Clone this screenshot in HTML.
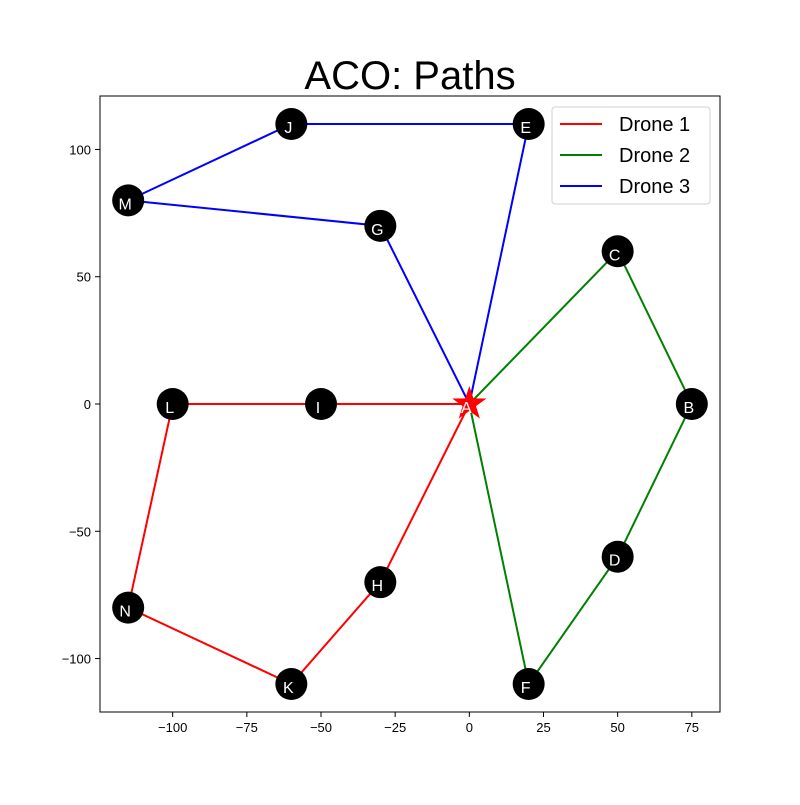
<!DOCTYPE html>
<html><head><meta charset="utf-8"><style>
body{margin:0;background:#fff;}
svg{font-family:"Liberation Sans","DejaVu Sans",sans-serif;}
</style></head><body>
<svg id="chart" width="800" height="800" xmlns="http://www.w3.org/2000/svg">
<rect width="800" height="800" fill="#fff"/>
<text x="410" y="89" font-size="40" text-anchor="middle">ACO: Paths</text>
<g id="lines"></g>
<g id="nodes"></g>
<rect x="100" y="96" width="620" height="616" fill="none" stroke="#000" stroke-width="1"/>
<g id="xticks"></g><g id="yticks"></g>
<g>
<rect x="552" y="107" width="158" height="97" rx="3" fill="#fff" stroke="#ccc" opacity="0.9"/>
<g id="legend-items"></g>
</g>
</svg>
<script>
const nodeNames=["A","B","C","D","E","F","G","H","I","J","K","L","M","N"];
const nodeX=[0,75,50,50,20,20,-30,-30,-50,-60,-60,-100,-115,-115];
const nodeY=[0,0,60,-60,110,-110,70,-70,0,110,-110,0,80,-80];
const routeNames=["Drone 1","Drone 2","Drone 3"];
const routeColors=["red","green","blue"];
const routes=[["A","I","L","N","K","H","A"],["A","C","B","D","F","A"],["A","E","J","M","G","A"]];
const xTicks=[-100,-75,-50,-25,0,25,50,75];
const yTicks=[-100,-50,0,50,100];
const xMin=-124.5,xMax=84.5,yMin=-121,yMax=121;
const L=100,R=720,T=96,B=712;
const sx=v=>L+(v-xMin)/(xMax-xMin)*(R-L);
const sy=v=>B-(v-yMin)/(yMax-yMin)*(B-T);
const NS="http://www.w3.org/2000/svg";
function mk(t,a,p){const e=document.createElementNS(NS,t);for(const k in a)e.setAttribute(k,a[k]);p.appendChild(e);return e;}
const lines=document.getElementById('lines');
routes.forEach((r,i)=>{
 const pts=r.map(n=>{const j=nodeNames.indexOf(n);return sx(nodeX[j])+","+sy(nodeY[j]);}).join(" ");
 const pl=mk('polyline',{points:pts,fill:'none',stroke:routeColors[i],'stroke-width':2},lines);
 
 
});
const nodes=document.getElementById('nodes');
nodeNames.forEach((n,i)=>{
 const x=sx(nodeX[i]),y=sy(nodeY[i]);
 const g=mk('g',{},nodes);
 
 
 if(n==="A"){
  let p=[];for(let k=0;k<10;k++){const r=k%2?7:18,a=-Math.PI/2+k*Math.PI/5;p.push((x+r*Math.cos(a))+","+(y+r*Math.sin(a)));}
  mk('polygon',{points:p.join(" "),fill:'red'},g);
 } else mk('circle',{cx:x,cy:y,r:16,fill:'#000'},g);
 const t=mk('text',{x:x-3,y:y+9,'font-size':16,fill:'#fff','text-anchor':'middle'},g);t.textContent=n;
});
const xt=document.getElementById('xticks');
xTicks.forEach(v=>{const x=sx(v);mk('line',{x1:x,x2:x,y1:B,y2:B+5,stroke:'#000'},xt);
 const t=mk('text',{x:x,y:B+20,'font-size':13,'text-anchor':'middle'},xt);t.textContent=v<0?"\u2212"+(-v):v;
 });
const yt=document.getElementById('yticks');
yTicks.forEach(v=>{const y=sy(v);mk('line',{x1:L-5,x2:L,y1:y,y2:y,stroke:'#000'},yt);
 const t=mk('text',{x:L-9,y:y+5,'font-size':13,'text-anchor':'end'},yt);t.textContent=v<0?"\u2212"+(-v):v;
 });
const lg=document.getElementById('legend-items');
routeNames.forEach((n,i)=>{const y=124+i*31;
 const g=mk('g',{},lg);
 
 
 mk('line',{x1:560,x2:602,y1:y,y2:y,stroke:routeColors[i],'stroke-width':2},g);
 const t=mk('text',{x:619,y:y+7,'font-size':20},g);t.textContent=n;});
</script>
</body></html>
